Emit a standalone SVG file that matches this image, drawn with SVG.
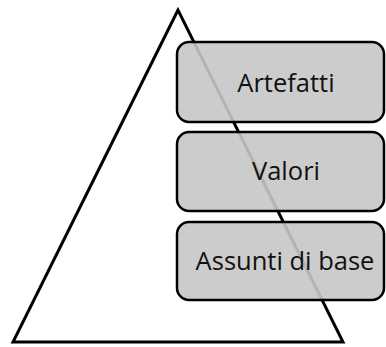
<svg xmlns="http://www.w3.org/2000/svg" width="386" height="347" viewBox="0 0 386 347">
<style>
.box{fill:#c7c7c7;fill-opacity:0.9;stroke:#000;stroke-width:2.5}
.lbl{font-family:"Open Sans","Liberation Sans",sans-serif;font-size:25.5px;fill:#111;text-anchor:middle}
</style>
<rect width="386" height="347" fill="#fff"/>
<g id="pyramid"><polygon points="178,10 13,342 343,342" fill="none" stroke="#000" stroke-width="3" stroke-linejoin="miter"/></g>
<g id="artefatti"><rect class="box" x="177" y="42" width="207" height="80" rx="12"/><text class="lbl" x="286" y="92">Artefatti</text></g>
<g id="valori"><rect class="box" x="177" y="132" width="207" height="79" rx="12"/><text class="lbl" x="286" y="180">Valori</text></g>
<g id="assunti"><rect class="box" x="177" y="222" width="207" height="78" rx="12"/><text class="lbl" x="285" y="270">Assunti di base</text></g>
<g id="connectors"/>
</svg>
